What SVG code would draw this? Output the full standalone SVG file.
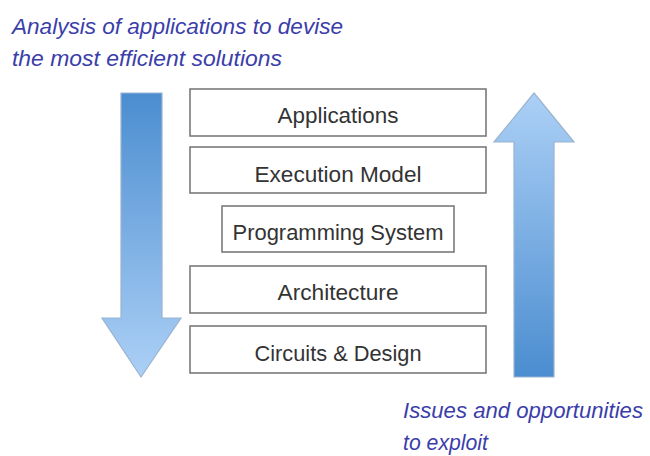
<svg xmlns="http://www.w3.org/2000/svg" width="650" height="456" viewBox="0 0 650 456">
<defs>
<linearGradient id="gDown" x1="0" y1="0" x2="0" y2="1">
<stop offset="0" stop-color="#4b8dd0"/>
<stop offset="1" stop-color="#acd0f6"/>
</linearGradient>
<linearGradient id="gUp" x1="0" y1="1" x2="0" y2="0">
<stop offset="0" stop-color="#4b8dd0"/>
<stop offset="1" stop-color="#acd0f6"/>
</linearGradient>
<style>
.box{fill:#fff;stroke:#7a7a7a;stroke-width:1.6}
.lbl{font-family:"Liberation Sans",Arial,sans-serif;font-size:21.5px;fill:#333;text-anchor:middle}
.note{font-family:"Liberation Sans",Arial,sans-serif;font-style:italic;font-size:22px;fill:#3b3eaa}
.arrow{stroke:#9ab3cf;stroke-width:1.2}
</style>
</defs>
<rect width="650" height="456" fill="#fff"/>
<text class="note" x="12" y="34" textLength="331" lengthAdjust="spacingAndGlyphs">Analysis of applications to devise</text>
<text class="note" x="12" y="66" textLength="270" lengthAdjust="spacingAndGlyphs">the most efficient solutions</text>
<g id="connectors">
<path class="arrow" fill="url(#gDown)" d="M121,93 H162 V318 H181 L141,377 L102,318 H121 Z"/>
<path class="arrow" fill="url(#gUp)" d="M534,93 L574,142 H554 V377 H514 V142 H494 Z"/>
</g>
<g id="applications"><rect class="box" x="190" y="89" width="296" height="47"/><text class="lbl" x="338" y="123" textLength="121" lengthAdjust="spacingAndGlyphs">Applications</text></g>
<g id="execution-model"><rect class="box" x="190" y="147" width="296" height="46"/><text class="lbl" x="338" y="182" textLength="167" lengthAdjust="spacingAndGlyphs">Execution Model</text></g>
<g id="programming-system"><rect class="box" x="222" y="206" width="232" height="46"/><text class="lbl" x="338" y="240" textLength="211" lengthAdjust="spacingAndGlyphs">Programming System</text></g>
<g id="architecture"><rect class="box" x="190" y="266" width="296" height="47"/><text class="lbl" x="338" y="300" textLength="121" lengthAdjust="spacingAndGlyphs">Architecture</text></g>
<g id="circuits-design"><rect class="box" x="190" y="326" width="296" height="47"/><text class="lbl" x="338" y="361" textLength="167" lengthAdjust="spacingAndGlyphs">Circuits &amp; Design</text></g>
<text class="note" x="403" y="418" textLength="240" lengthAdjust="spacingAndGlyphs">Issues and opportunities</text>
<text class="note" x="403" y="450" textLength="85" lengthAdjust="spacingAndGlyphs">to exploit</text>
</svg>
